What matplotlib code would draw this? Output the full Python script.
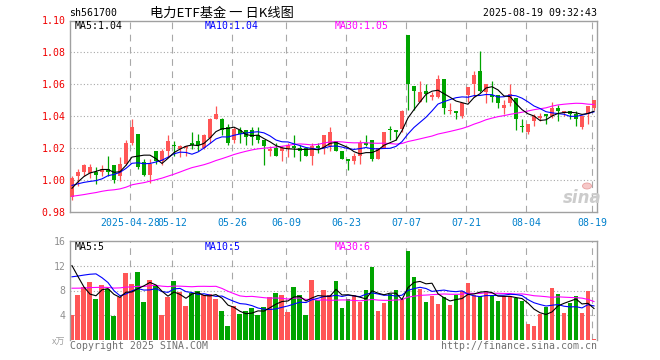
import matplotlib
matplotlib.use('Agg')
import matplotlib.pyplot as plt
from matplotlib.patches import Ellipse
import numpy as np

# ---------------- data ----------------
dates = ['04-14','04-15','04-16','04-17','04-18','04-21','04-22','04-23','04-24','04-25','04-28','04-29','04-30',
         '05-06','05-07','05-08','05-09','05-12','05-13','05-14','05-15','05-16','05-19','05-20','05-21','05-22','05-23','05-26','05-27','05-28','05-29','05-30',
         '06-03','06-04','06-05','06-06','06-09','06-10','06-11','06-12','06-13','06-16','06-17','06-18','06-19','06-20','06-23','06-24','06-25','06-26','06-27','06-30',
         '07-01','07-02','07-03','07-04','07-07','07-08','07-09','07-10','07-11','07-14','07-15','07-16','07-17','07-18','07-21','07-22','07-23','07-24','07-25','07-28','07-29','07-30','07-31',
         '08-01','08-04','08-05','08-06','08-07','08-08','08-11','08-12','08-13','08-14','08-15','08-18','08-19']

opens = [0.989,1.002,1.005,1.004,1.005,1.005,1.007,1.009,1.002,1.010,1.023,1.029,1.011,1.003,1.018,1.012,1.018,1.022,1.019,1.020,
         1.023,1.024,1.020,1.026,1.038,1.038,1.033,1.025,1.031,1.031,1.031,1.028,1.025,1.018,1.020,1.018,1.019,1.021,1.020,1.020,
         1.015,1.021,1.020,1.021,1.024,1.018,1.013,1.012,1.015,1.023,1.025,1.013,1.020,1.032,1.031,1.032,1.091,1.059,1.049,1.056,
         1.052,1.052,1.063,1.043,1.043,1.040,1.053,1.060,1.068,1.055,1.053,1.053,1.045,1.048,1.051,1.034,1.030,1.037,1.039,1.041,
         1.040,1.045,1.042,1.043,1.041,1.033,1.041,1.045]
highs = [1.002,1.007,1.010,1.010,1.008,1.009,1.015,1.009,1.014,1.025,1.038,1.029,1.013,1.013,1.018,1.019,1.028,1.024,1.022,1.021,
         1.030,1.029,1.029,1.039,1.046,1.039,1.035,1.033,1.033,1.031,1.033,1.033,1.025,1.021,1.023,1.021,1.023,1.028,1.022,1.020,
         1.023,1.023,1.028,1.033,1.024,1.018,1.013,1.017,1.025,1.028,1.025,1.020,1.030,1.034,1.031,1.044,1.091,1.059,1.062,1.060,
         1.055,1.066,1.063,1.048,1.043,1.048,1.058,1.068,1.081,1.060,1.062,1.053,1.050,1.060,1.051,1.038,1.035,1.041,1.042,1.041,
         1.049,1.047,1.043,1.043,1.043,1.040,1.046,1.050]
lows = [0.987,0.996,1.002,1.001,0.997,1.002,1.002,0.998,0.999,1.009,1.022,1.007,1.002,0.998,1.010,1.009,1.014,1.015,1.014,1.015,
        1.019,1.018,1.019,1.023,1.038,1.028,1.022,1.023,1.023,1.022,1.022,1.023,1.009,1.015,1.015,1.012,1.014,1.014,1.012,1.015,
        1.009,1.017,1.016,1.018,1.018,1.013,1.006,1.010,1.010,1.021,1.012,1.013,1.020,1.025,1.025,1.030,1.044,1.044,1.049,1.049,
        1.050,1.051,1.041,1.041,1.038,1.039,1.049,1.052,1.055,1.048,1.049,1.045,1.041,1.046,1.031,1.030,1.029,1.034,1.037,1.035,
        1.039,1.037,1.040,1.038,1.034,1.032,1.035,1.044]
closes = [1.001,1.005,1.009,1.008,1.003,1.007,1.005,1.000,1.010,1.023,1.033,1.008,1.003,1.010,1.012,1.018,1.024,1.021,1.021,1.021,
          1.022,1.022,1.028,1.038,1.041,1.031,1.023,1.032,1.029,1.027,1.027,1.025,1.021,1.019,1.015,1.020,1.022,1.020,1.018,1.015,
          1.021,1.020,1.028,1.030,1.018,1.013,1.012,1.015,1.023,1.022,1.013,1.020,1.030,1.031,1.030,1.043,1.060,1.056,1.055,1.054,
          1.053,1.063,1.045,1.044,1.042,1.048,1.058,1.066,1.056,1.060,1.052,1.048,1.047,1.054,1.038,1.033,1.035,1.040,1.040,1.040,
          1.045,1.043,1.043,1.041,1.038,1.040,1.046,1.050]
volumes = [4.05,7.25,8.53,9.33,6.61,8.85,8.21,3.89,6.93,10.77,9.01,10.93,6.13,9.65,8.69,4.05,6.93,9.49,7.73,5.55,
           7.57,7.89,7.25,7.41,6.61,4.69,2.29,5.49,4.21,4.69,5.17,4.05,5.33,6.93,7.57,7.25,4.53,8.53,7.25,4.05,
           9.65,6.45,8.05,7.25,9.49,5.17,6.61,7.25,6.13,8.05,11.73,4.69,5.97,7.41,8.05,6.61,14.29,10.13,8.21,6.13,
           7.09,5.81,6.93,5.65,7.25,7.89,9.17,7.25,7.09,7.73,7.09,6.29,7.09,7.09,6.77,6.29,2.61,2.29,4.21,5.33,
           8.37,7.41,4.37,5.97,7.09,4.37,7.89,0.21]
# closes / volumes of the 29 sessions before the window (seed the moving averages)
prev_closes = [0.990,0.992,0.988,0.985,0.983,0.987,0.990,0.993,0.991,0.988,0.986,0.984,0.982,0.985,0.988,0.987,0.984,0.980,0.978,0.982,
               0.995,1.000,1.002,0.998,0.996,0.985,0.992,0.997,0.998]
prev_volumes = [7,8,7,6,8,9,7,6,7,8,8,7,6,7,8,9,7,8,7,9,
                6,7,8,6,15,16,17,15,7.95]
tick_dates = ['04-28','05-12','05-26','06-09','06-23','07-07','07-21','08-04','08-19']
tick_labels = ['2025-04-28','05-12','05-26','06-09','06-23','07-07','07-21','08-04','08-19']
price_ticks = [0.98,1.00,1.02,1.04,1.06,1.08,1.10]
vol_ticks = [4,8,12,16]

# ---------------- helpers ----------------
def ma(series, n, k):
    s = np.asarray(series, float)
    out = np.convolve(s, np.ones(n) / n, mode='valid')
    return out[-k:]

N = len(closes)
x = np.arange(N)
o = np.array(opens); h = np.array(highs); l = np.array(lows); c = np.array(closes)
up = c >= o
RED = '#ff5656'
GREEN = '#00a400'
cols = np.where(up, RED, GREEN)

allc = prev_closes + closes
allv = prev_volumes + volumes
ma5, ma10, ma30 = ma(allc, 5, N), ma(allc, 10, N), ma(allc, 30, N)
vma5, vma10, vma30 = ma(allv, 5, N), ma(allv, 10, N), ma(allv, 30, N)

MONO = 'DejaVu Sans Mono'
GRID = '#a8a8a8'
FRAME = '#a0a0a0'

fig = plt.figure(figsize=(6.6, 3.6), dpi=100)
W, H = 660.0, 360.0
def rect(l_, t_, r_, b_):
    return [l_ / W, 1 - b_ / H, (r_ - l_) / W, (b_ - t_) / H]

ax = fig.add_axes(rect(70, 20.5, 597, 211.5))
axv = fig.add_axes(rect(70, 240.7, 597, 340.3))

xl = (-0.33, 87.5)
tick_pos = [dates.index(d) - 0.25 for d in tick_dates]

for a in (ax, axv):
    a.set_xlim(*xl)
    for s in a.spines.values():
        s.set_color(FRAME)
        s.set_linewidth(1.0)
    a.tick_params(length=0)
    for tp in tick_pos:
        a.axvline(tp, color=GRID, lw=0.8, linestyle=(0, (6, 5)), zorder=0)

# ---- main price panel ----
ax.set_ylim(0.98, 1.10)
for p in price_ticks[1:-1]:
    ax.axhline(p, color=GRID, lw=0.8, linestyle=(0, (1, 2)), zorder=0)
ax.vlines(x, l, h, colors=cols, lw=0.9, zorder=2)
body_b = np.minimum(o, c)
body_h = np.maximum(np.abs(c - o), 0.0007)
ax.bar(x, body_h, bottom=body_b, width=0.78, color=cols, linewidth=0, zorder=3)
ax.plot(x, ma30, color='#ff00ff', lw=0.8, zorder=4)
ax.plot(x, ma10, color='#0000ff', lw=0.8, zorder=4)
ax.plot(x, ma5, color='#000000', lw=0.8, zorder=4)
ax.set_yticks(price_ticks)
ax.set_yticklabels(['%.2f' % p for p in price_ticks], color='#f00000', fontsize=7.1, family=MONO)
ax.tick_params(axis='y', pad=3)
ax.set_xticks(tick_pos)
ax.set_xticklabels(tick_labels, color='#0080cc', fontsize=7.1, family=MONO)
ax.tick_params(axis='x', pad=4.5)

fig.text(75 / W, 1 - 26 / H, 'MA5:%.2f' % ma5[-1], fontsize=7.1, family=MONO, color='black', va='center', ha='left')
fig.text(205 / W, 1 - 26 / H, 'MA10:%.2f' % ma10[-1], fontsize=7.1, family=MONO, color='#0000ff', va='center', ha='left')
fig.text(335 / W, 1 - 26 / H, 'MA30:%.2f' % ma30[-1], fontsize=7.1, family=MONO, color='#ff00ff', va='center', ha='left')

# sina watermark
fig.text(582 / W, 1 - 198 / H, 'sina', fontsize=12, color='#cccccc', style='italic', weight='bold',
         family='DejaVu Sans', ha='center', va='center')
fig.patches.append(Ellipse((587 / W, 1 - 186 / H), 9 / W, 6 / H, transform=fig.transFigure,
                           facecolor='#f6c8c8', edgecolor='#e8a0a0', lw=0.6))

# ---- volume panel ----
axv.set_ylim(0, 16)
axv.spines['bottom'].set_visible(False)
for v in vol_ticks[:-1]:
    axv.axhline(v, color=GRID, lw=0.8, linestyle=(0, (1, 2)), zorder=0)
axv.bar(x, volumes, width=0.83, color=cols, linewidth=0, zorder=2)
axv.plot(x, vma30, color='#ff00ff', lw=0.8, zorder=3)
axv.plot(x, vma10, color='#0000ff', lw=0.8, zorder=3)
axv.plot(x, vma5, color='#000000', lw=0.8, zorder=3)
axv.set_xticks([])
axv.set_yticks(vol_ticks)
axv.set_yticklabels([str(v) for v in vol_ticks], color='#909090', fontsize=7.1, family=MONO)
axv.tick_params(axis='y', pad=3)

fig.text(75 / W, 1 - 247.5 / H, 'MA5:%d' % int(vma5[-1]), fontsize=7.1, family=MONO, color='black', va='center')
fig.text(205 / W, 1 - 247.5 / H, 'MA10:%d' % int(vma10[-1]), fontsize=7.1, family=MONO, color='#0000ff', va='center')
fig.text(335 / W, 1 - 247.5 / H, 'MA30:%d' % int(vma30[-1]), fontsize=7.1, family=MONO, color='#ff00ff', va='center')

# ---- header / footer ----
fig.text(69 / W, 1 - 13 / H, 'sh561700', fontsize=7.1, family=MONO, color='black', va='center', ha='left')
fig.text(222 / W, 1 - 13 / H, '电力ETF基金 一 日K线图', fontsize=9.5, family=['Noto Sans CJK SC', 'DejaVu Sans'],
         color='black', va='center', ha='center')
fig.text(597 / W, 1 - 13 / H, '2025-08-19 09:32:43', fontsize=7.1, family=MONO, color='black', va='center', ha='right')
fig.text(70 / W, 1 - 346 / H, 'Copyright 2025 SINA.COM', fontsize=7.1, family=MONO, color='#707070', va='center', ha='left')
fig.text(597 / W, 1 - 346 / H, 'http://finance.sina.com.cn', fontsize=7.1, family=MONO, color='#707070', va='center', ha='right')
fig.text(65 / W, 1 - 342 / H, 'x万', fontsize=6.5, family=['Noto Sans CJK SC', 'DejaVu Sans'], color='#a0a0a0',
         style='italic', va='center', ha='right')

fig.savefig('out.png', dpi=100)
